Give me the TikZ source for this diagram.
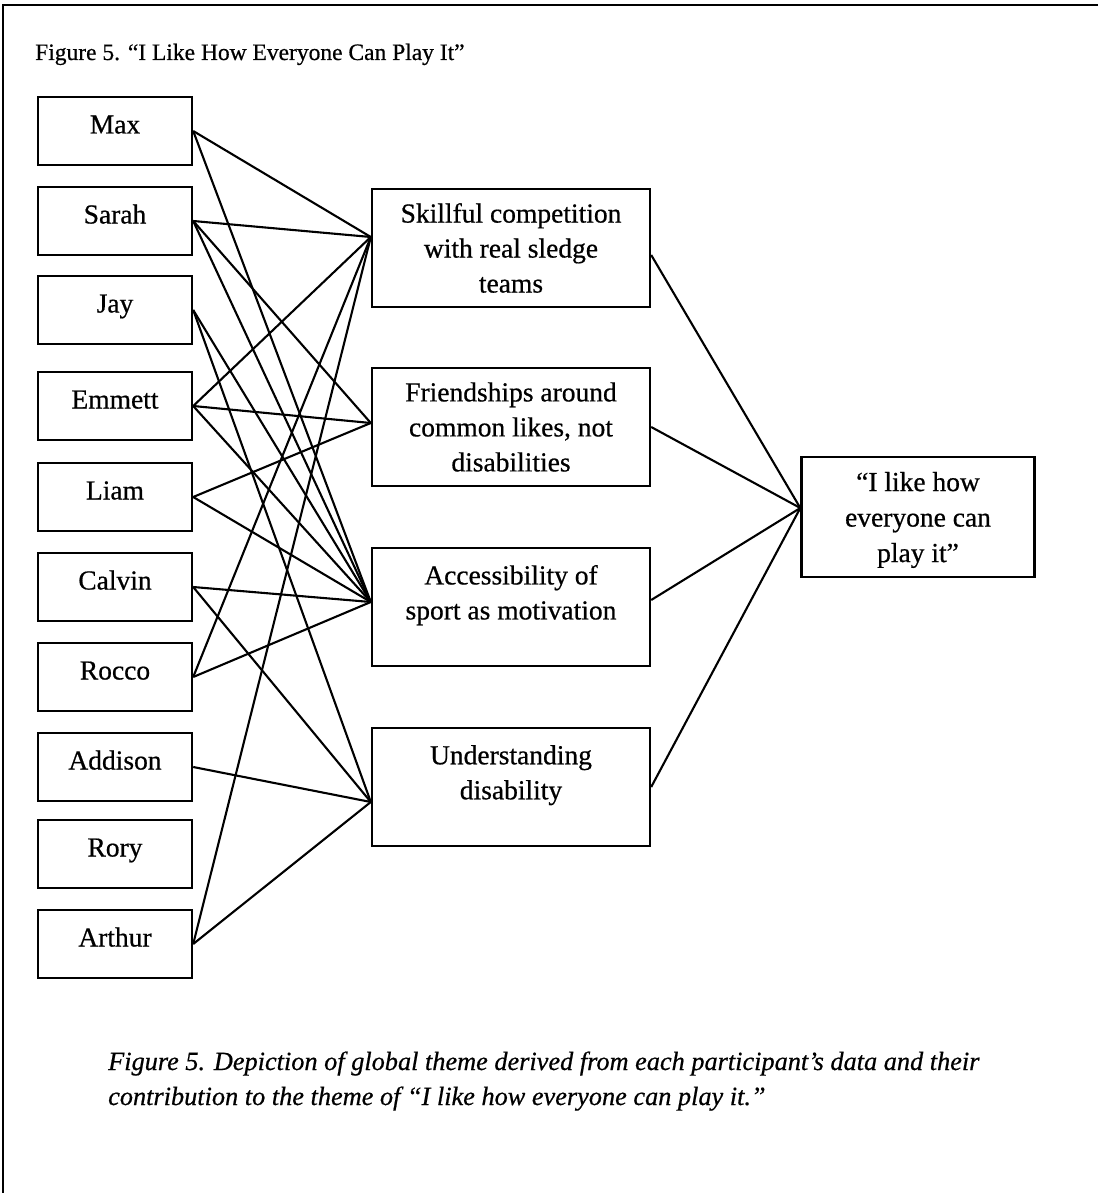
\documentclass[tikz,border=0pt]{standalone}
\usepackage{fontspec}
\setmainfont{Liberation Serif}[FakeBold=0.6]
\begin{document}
\begin{tikzpicture}[x=1pt,y=-1pt,
  person/.style={draw, line width=2.4pt, minimum width=154pt, minimum height=68pt,
    inner sep=0pt, text height=14pt, text depth=9pt, font=\fontsize{27.5}{35}\selectfont},
  theme/.style={draw, line width=2.4pt, minimum width=278pt, minimum height=118pt,
    inner sep=0pt, align=center, font=\fontsize{27.5}{35}\selectfont},
  link/.style={line width=2.1pt}]
\useasboundingbox (0,0) rectangle (1098,1193);

% page frame (top and left edges)
\draw[line width=2.2pt] (1098,5) -- (3,5) -- (3,1193);

% heading
\node[anchor=base west, inner sep=0pt, font=\fontsize{23.5}{28}\selectfont] (title) at (35,60)
  {Figure 5. “I Like How Everyone Can Play It”};

% participants
\node[person] (max)     at (115,131) {Max};
\node[person] (sarah)   at (115,221) {Sarah};
\node[person] (jay)     at (115,310) {Jay};
\node[person] (emmett)  at (115,406) {Emmett};
\node[person] (liam)    at (115,497) {Liam};
\node[person] (calvin)  at (115,587) {Calvin};
\node[person] (rocco)   at (115,677) {Rocco};
\node[person] (addison) at (115,767) {Addison};
\node[person] (rory)    at (115,854) {Rory};
\node[person] (arthur)  at (115,944) {Arthur};

% organising themes
\node[theme] (skill)  at (511,248) {Skillful competition\\with real sledge\\teams};
\node[theme] (friend) at (511,427) {Friendships around\\common likes, not\\disabilities};
\node[theme] (access) at (511,607) {Accessibility of\\sport as motivation\\[-16pt]\strut};
\node[theme] (under)  at (511,787) {Understanding\\disability\\[-16pt]\strut};

% global theme
\node[draw, line width=2.4pt, minimum width=233pt, minimum height=120pt, inner sep=0pt,
  align=center, text depth=0pt, font=\fontsize{27.5}{35.5}\selectfont] (global) at (918,517)
  {“I like how\\everyone can\\play it”};

% inlet points on the theme boxes
\coordinate (skillIn)  at ([yshift=11pt]skill.west);
\coordinate (friendIn) at ([yshift=4pt]friend.west);
\coordinate (accessIn) at ([yshift=5pt]access.west);
\coordinate (underIn)  at ([yshift=-15pt]under.west);
\coordinate (globalIn) at ([yshift=9pt]global.west);

% participant contributions
\draw[link] (max.east) -- (skillIn);
\draw[link] (max.east) -- (accessIn);
\draw[link] (sarah.east) -- (skillIn);
\draw[link] (sarah.east) -- (friendIn);
\draw[link] (sarah.east) -- (accessIn);
\draw[link] (jay.east) -- (accessIn);
\draw[link] (jay.east) -- (underIn);
\draw[link] (emmett.east) -- (skillIn);
\draw[link] (emmett.east) -- (friendIn);
\draw[link] (emmett.east) -- (accessIn);
\draw[link] (liam.east) -- (friendIn);
\draw[link] (liam.east) -- (accessIn);
\draw[link] (calvin.east) -- (accessIn);
\draw[link] (calvin.east) -- (underIn);
\draw[link] (rocco.east) -- (skillIn);
\draw[link] (rocco.east) -- (accessIn);
\draw[link] (addison.east) -- (underIn);
\draw[link] (arthur.east) -- (skillIn);
\draw[link] (arthur.east) -- (underIn);

% themes feeding the global theme
\draw[link] ([yshift=-7pt]skill.east) -- (globalIn);
\draw[link] (friend.east) -- (globalIn);
\draw[link] ([yshift=7pt]access.east) -- (globalIn);
\draw[link] (under.east) -- (globalIn);

% caption (base anchor sits on the last line)
\node[anchor=base west, inner sep=0pt, align=left,
  font=\fontsize{26.3}{35}\selectfont\itshape] (caption) at (108,1105)
  {Figure 5. Depiction of global theme derived from each participant’s data and their\\
   contribution to the theme of “I like how everyone can play it.”};
\end{tikzpicture}
\end{document}
